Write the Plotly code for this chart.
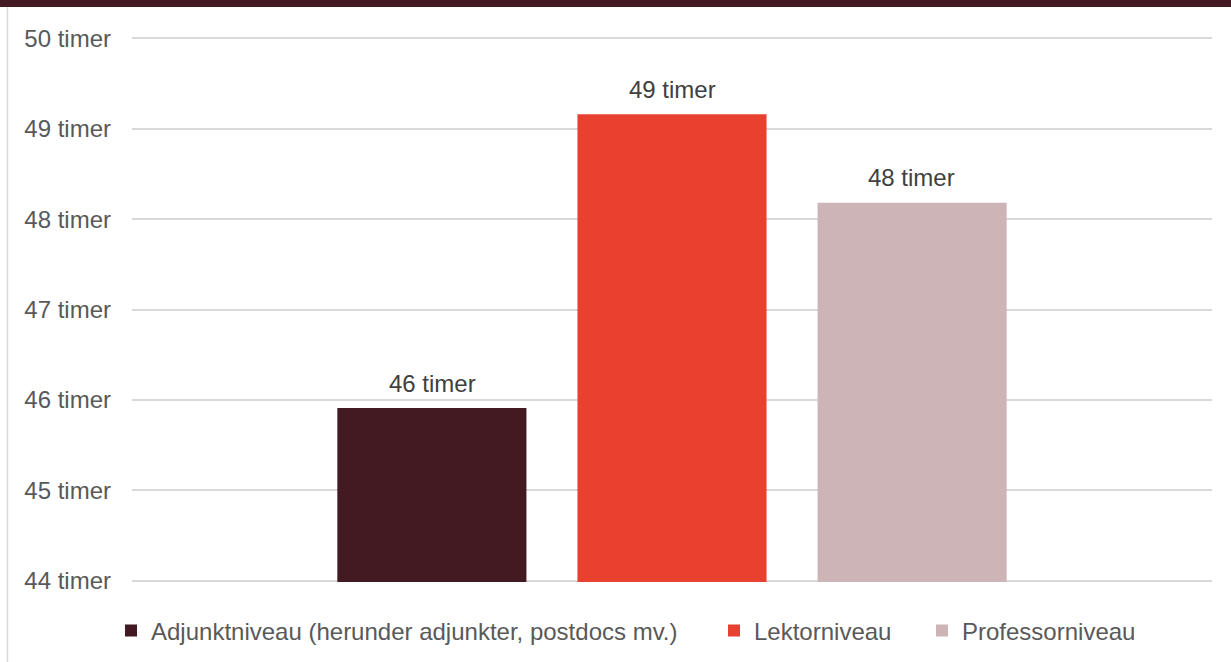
import plotly.graph_objects as go

series = ["Adjunktniveau (herunder adjunkter, postdocs mv.)", "Lektorniveau", "Professorniveau"]
values = [45.91, 49.16, 48.18]
colors = ["#431A22", "#E84130", "#CDB5B7"]
legend_widths = [558, 163, 190]
label_xshifts = [-239.5, 0, 239.5]
y_ticks = [44, 45, 46, 47, 48, 49, 50]
y_labels = [f"{v} timer" for v in y_ticks]

FONT = "Liberation Sans, Arial, sans-serif"
TXT = "#595959"

W, H = 1231, 662
ML, MR, MT, MB = 132, 19, 37, 80
PW, PH = W - ML - MR, H - MT - MB

def px_x(p):
    return (p - ML) / PW

def px_y(p):
    return (H - MB - p) / PH

fig = go.Figure()
for name, v, c, lw in zip(series, values, colors, legend_widths):
    fig.add_trace(go.Bar(
        x=[0], y=[v], name=name, marker=dict(color=c, line=dict(width=0)),
        legendwidth=lw, hoverinfo="name+y",
    ))

annotations = [
    dict(x=0, y=v, xref="x", yref="y", text=f"{round(v)} timer", showarrow=False,
         xshift=xs, yshift=25, yanchor="middle", xanchor="center",
         font=dict(size=24, color="#404040", family=FONT))
    for v, xs in zip(values, label_xshifts)
]

fig.update_layout(
    width=W, height=H,
    margin=dict(l=ML, r=MR, t=MT, b=MB, autoexpand=False),
    paper_bgcolor="white", plot_bgcolor="white",
    barmode="group", bargap=0.333, bargroupgap=0.2125,
    font=dict(family=FONT, size=24, color=TXT),
    showlegend=True,
    legend=dict(orientation="h", xref="container", yref="container",
                x=111 / W, xanchor="left", y=1 - 631 / H, yanchor="middle",
                font=dict(size=24, color=TXT),
                itemwidth=30, traceorder="normal", itemclick=False),
    xaxis=dict(type="linear", range=[-0.5, 0.5], showticklabels=False, showgrid=False,
               zeroline=False, showline=False),
    yaxis=dict(range=[43.985, 50.015], tickvals=y_ticks, ticktext=y_labels,
               showgrid=True, gridcolor="#D9D9D9", gridwidth=1.5,
               zeroline=False, showline=False, ticks="", ticklabelstandoff=20,
               tickfont=dict(size=24, color=TXT)),
    annotations=annotations,
    shapes=[
        dict(type="rect", xref="paper", yref="paper",
             x0=px_x(0), x1=px_x(W), y0=px_y(7), y1=px_y(-2),
             fillcolor="#431A22", line=dict(width=0), layer="above"),
        dict(type="line", xref="paper", yref="paper",
             x0=px_x(7.5), x1=px_x(7.5), y0=px_y(H), y1=px_y(7),
             line=dict(color="#D9D9D9", width=1.5)),
    ],
)

fig.write_html("out.html", config={"displayModeBar": False},
               post_script="document.body.style.margin='0';document.body.style.overflow='hidden';")
